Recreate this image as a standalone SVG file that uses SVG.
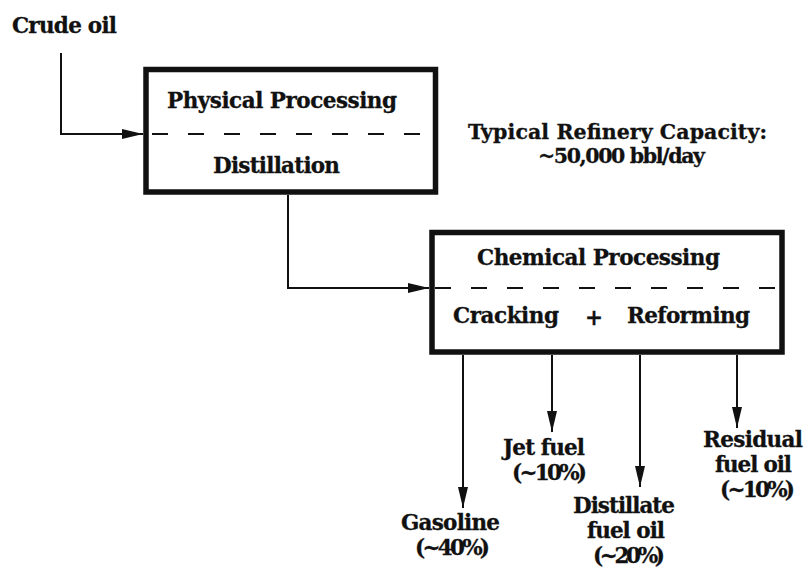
<svg xmlns="http://www.w3.org/2000/svg" width="807" height="567" viewBox="0 0 807 567">
<style>
text{font-family:"DejaVu Serif","Liberation Serif",serif;font-weight:bold;font-size:21.5px;fill:#111;text-anchor:middle;stroke:#111;stroke-width:0.3}
.cap{font-size:20.5px}
.box{fill:#fff;stroke:#111;stroke-width:5.5}
.dash{stroke:#111;stroke-width:2;stroke-dasharray:16 20;fill:none}
.conn{stroke:#111;stroke-width:2;fill:none;marker-end:url(#ah)}
</style>
<defs>
<marker id="ah" viewBox="0 0 21 10" refX="21" refY="5" markerWidth="21" markerHeight="10" markerUnits="userSpaceOnUse" orient="auto">
<path d="M0,0 L21,5 L0,10 z" fill="#111"/>
</marker>
</defs>
<rect width="807" height="567" fill="#fff"/>
<g id="crude-oil">
<text x="64.5" y="33" textLength="105">Crude oil</text>
</g>
<g id="physical">
<rect class="box" x="146" y="69.5" width="289.5" height="122.5"/>
<text x="282" y="108" textLength="230">Physical Processing</text>
<line class="dash" x1="152" y1="134" x2="430" y2="134"/>
<text x="276.5" y="173" textLength="127">Distillation</text>
</g>
<g id="capacity">
<text class="cap" x="617.5" y="139" textLength="299">Typical Refinery Capacity:</text>
<text class="cap" x="621.5" y="163" textLength="167">~50,000 bbl/day</text>
</g>
<g id="chemical">
<rect class="box" x="432" y="232.5" width="350" height="119.5"/>
<text x="598.5" y="265" textLength="243">Chemical Processing</text>
<line class="dash" x1="435" y1="288" x2="779" y2="288"/>
<text x="506" y="323" textLength="106">Cracking</text>
<text x="594" y="325">+</text>
<text x="688.5" y="323" textLength="123">Reforming</text>
</g>
<g id="gasoline">
<text x="450.5" y="530" textLength="99">Gasoline</text>
<text x="452.5" y="555" textLength="75">(~40%)</text>
</g>
<g id="jet-fuel">
<text x="544" y="455" textLength="82">Jet fuel</text>
<text x="549.5" y="480" textLength="75">(~10%)</text>
</g>
<g id="distillate">
<text x="624" y="513" textLength="102">Distillate</text>
<text x="626" y="538" textLength="78">fuel oil</text>
<text x="629" y="563" textLength="72">(~20%)</text>
</g>
<g id="residual">
<text x="753" y="447" textLength="100">Residual</text>
<text x="753.5" y="472" textLength="77">fuel oil</text>
<text x="757.5" y="497" textLength="75">(~10%)</text>
</g>
<g id="connectors">
<path class="conn" d="M61,53 V134 H143"/>
<path class="conn" d="M288,195 V288 H429"/>
<path class="conn" d="M463,355 V508"/>
<path class="conn" d="M552,355 V432"/>
<path class="conn" d="M640,355 V487"/>
<path class="conn" d="M737,355 V428"/>
</g>
</svg>
